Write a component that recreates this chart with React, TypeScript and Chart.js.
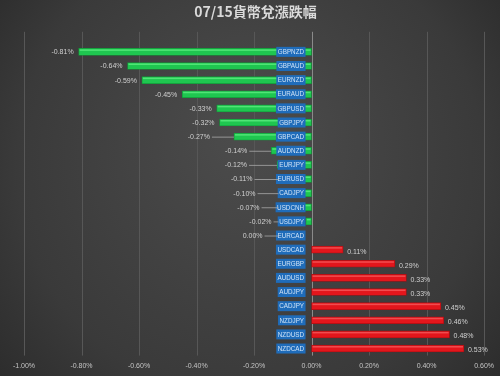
import React, { useEffect, useRef } from "react";
import { Chart, registerables } from "chart.js";

Chart.register(...registerables);

const titleText = "07/15貨幣兌漲跌幅";
const pairs = [
  "GBPNZD", "GBPAUD", "EURNZD", "EURAUD", "GBPUSD", "GBPJPY", "GBPCAD",
  "AUDNZD", "EURJPY", "EURUSD", "CADJPY", "USDCNH", "USDJPY", "EURCAD",
  "USDCAD", "EURGBP", "AUDUSD", "AUDJPY", "CADJPY", "NZDJPY", "NZDUSD", "NZDCAD",
];
const changes = [
  -0.81, -0.64, -0.59, -0.45, -0.33, -0.32, -0.27,
  -0.14, -0.12, -0.11, -0.10, -0.07, -0.02, 0.0,
  0.11, 0.29, 0.33, 0.33, 0.45, 0.46, 0.48, 0.53,
];
const xTickValues = [-1.0, -0.8, -0.6, -0.4, -0.2, 0.0, 0.2, 0.4, 0.6];
// leader line lengths (styling of the value labels, in px)
const leaderLengths = [
  0, 0, 0, 0, 0, 0, 22,
  22, 28, 24, 21, 17, 5, 14,
  0, 0, 0, 0, 0, 0, 0, 0,
];

const fmt = (v: number) => v.toFixed(2) + "%";

export default function App() {
  const ref = useRef<HTMLCanvasElement | null>(null);
  useEffect(() => {
    document.body.style.margin = "0";
    const canvas = ref.current!;
    const bgPlugin = {
      id: "bg",
      beforeDraw(chart: any) {
        const { ctx, width, height } = chart;
        ctx.save();
        const g = ctx.createRadialGradient(width / 2, height * 0.35, 20, width / 2, height * 0.5, width * 0.75);
        g.addColorStop(0, "#4b4b4b");
        g.addColorStop(0.6, "#3a3a3a");
        g.addColorStop(1, "#242424");
        ctx.fillStyle = g;
        ctx.fillRect(0, 0, width, height);
        ctx.restore();
      },
      beforeDatasetsDraw(chart: any) {
        const { ctx, chartArea, scales } = chart;
        const xs = scales.x;
        ctx.save();
        xTickValues.forEach((v) => {
          const x = Math.round(xs.getPixelForValue(v)) + 0.5;
          ctx.strokeStyle = v === 0 ? "#8a8a8a" : "#575757";
          ctx.lineWidth = 1;
          ctx.beginPath();
          ctx.moveTo(x, chartArea.top - 13);
          ctx.lineTo(x, chartArea.bottom);
          ctx.stroke();
        });
        ctx.restore();
      },
      afterDatasetsDraw(chart: any) {
        const { ctx, scales } = chart;
        const xs = scales.x;
        const ys = scales.y;
        const meta = chart.getDatasetMeta(0);
        const x0 = xs.getPixelForValue(0);
        ctx.save();
        // bar highlights
        meta.data.forEach((bar: any, i: number) => {
          const v = changes[i];
          if (v === 0) return;
          const left = Math.min(bar.x, bar.base);
          const w = Math.abs(bar.x - bar.base);
          const top = bar.y - bar.height / 2;
          ctx.fillStyle = v < 0 ? "rgba(120,255,150,0.55)" : "rgba(255,130,130,0.5)";
          ctx.fillRect(left + 1, top + 1, Math.max(w - 2, 0), 1.5);
        });
        // category boxes
        ctx.font = "6.3px 'Liberation Sans', Arial, sans-serif";
        ctx.textBaseline = "middle";
        pairs.forEach((p, i) => {
          const y = ys.getPixelForValue(i);
          const tw = ctx.measureText(p).width;
          const right = x0 - 6;
          const bw = tw + 3;
          ctx.fillStyle = "#1f6cba";
          ctx.fillRect(right - bw, y - 5, bw, 10);
          ctx.fillStyle = "#cfe3f7";
          ctx.textAlign = "right";
          ctx.fillText(p, right - 1.5, y + 0.5);
        });
        // value labels
        ctx.font = "7px 'Liberation Sans', Arial, sans-serif";
        const boxLeft = x0 - 33;
        changes.forEach((v, i) => {
          const y = ys.getPixelForValue(i);
          const bx = xs.getPixelForValue(v);
          const t = fmt(v);
          ctx.fillStyle = "#d0d0d0";
          if (v > 0) {
            ctx.textAlign = "left";
            ctx.fillText(t, bx + 4, y + 2);
          } else {
            const L = leaderLengths[i];
            if (L > 0) {
              const end = Math.min(bx, boxLeft);
              const start = end - L;
              ctx.strokeStyle = "#a8a8a8";
              ctx.lineWidth = 0.8;
              ctx.beginPath();
              ctx.moveTo(start, y + 0.5);
              ctx.lineTo(end, y + 0.5);
              ctx.stroke();
              ctx.textAlign = "right";
              ctx.fillText(t, start - 2, y + 0.5);
            } else {
              ctx.textAlign = "right";
              ctx.fillText(t, bx - 5, y + 0.5);
            }
          }
        });
        ctx.restore();
      },
    };
    const chart = new Chart(canvas, {
      type: "bar",
      data: {
        labels: pairs,
        datasets: [
          {
            data: changes,
            backgroundColor: changes.map((v) => (v < 0 ? "#1fc650" : "#e3161c")),
            borderColor: changes.map((v) => (v < 0 ? "#139638" : "#a80e12")),
            borderWidth: 0.8,
            borderSkipped: false,
            barThickness: 7,
          },
        ],
      },
      options: {
        indexAxis: "y",
        responsive: false,
        animation: false,
        layout: { padding: { left: 24, right: 13, top: 0, bottom: 0 } },
        plugins: {
          legend: { display: false },
          tooltip: { enabled: false },
          title: {
            display: true,
            text: titleText,
            color: "#d9d9d9",
            font: { size: 14, weight: "bold", family: "'Noto Sans CJK TC', 'Noto Sans', sans-serif" },
            padding: { top: 3, bottom: 25 },
          },
        },
        scales: {
          x: {
            min: -1.0,
            max: 0.6,
            grid: { display: false, drawTicks: false },
            border: { display: false },
            ticks: {
              stepSize: 0.2,
              color: "#c4c4c4",
              font: { size: 7, family: "'Liberation Sans', Arial, sans-serif" },
              padding: 6,
              maxRotation: 0,
              callback: (v: any) => fmt(Number(v)),
            },
          },
          y: {
            display: false,
            offset: true,
          },
        },
      },
      plugins: [bgPlugin],
    } as any);
    return () => chart.destroy();
  }, []);
  return <canvas ref={ref} width={500} height={376} style={{ display: "block" }} />;
}
